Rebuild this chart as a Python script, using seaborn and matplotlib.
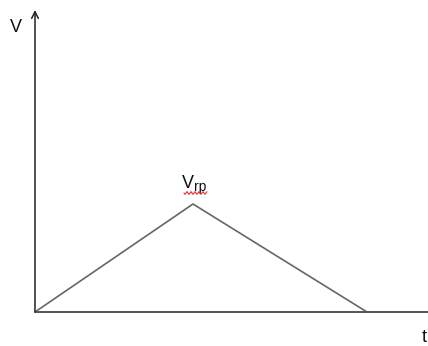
import numpy as np
import pandas as pd
import matplotlib
matplotlib.use("Agg")
import matplotlib.pyplot as plt
import seaborn as sns

# Triangular velocity profile: rises to the peak, then falls back to zero
t_points = [0, 158, 332]
v_points = [0, 108, 0]
peak_label = "V"
peak_sub = "rp"
x_label = "t"
y_label = "V"

sns.set_theme(style="white")
plt.rcParams["font.family"] = ["Liberation Sans", "DejaVu Sans"]

W, H = 428, 346
fig = plt.figure(figsize=(W / 100, H / 100), dpi=100)
ax = fig.add_axes([35 / W, 34 / H, 393 / W, 302 / H])
ax.set_xlim(0, 393)
ax.set_ylim(0, 302)

df = pd.DataFrame({"t": t_points, "v": v_points})
sns.lineplot(data=df, x="t", y="v", ax=ax, color="#666666", linewidth=1.2,
             sort=False, estimator=None)

for s in ax.spines.values():
    s.set_visible(False)
ax.set_xticks([])
ax.set_yticks([])
ax.set_xlabel("")
ax.set_ylabel("")

# horizontal time axis
ax.plot([0, 393], [0, 0], color="#555555", linewidth=1.4, clip_on=False)
# vertical axis with open arrowhead
ax.annotate("", xy=(0, 302), xytext=(0, 0), xycoords="data",
            arrowprops=dict(arrowstyle="->", color="#222222", lw=1.1,
                            shrinkA=0, shrinkB=0, mutation_scale=12),
            annotation_clip=False)

fig.text(16 / W, 1 - 27 / H, y_label, fontsize=13, color="#111111",
         ha="center", va="center")
fig.text(424 / W, 1 - 338 / H, x_label, fontsize=13, color="#111111",
         ha="center", va="center")

# peak label with subscript
peak_t = t_points[int(np.argmax(v_points))]
peak_v = max(v_points)
ax.text(peak_t + 1, peak_v + 21, peak_label, fontsize=13, color="#111111",
        ha="right", va="center")
ax.text(peak_t + 1, peak_v + 17, peak_sub, fontsize=10, color="#111111",
        ha="left", va="center")

# spell-check style wavy underline
xs = np.linspace(184, 207, 60)
ys = 1 - (193 + 1.2 * np.sin((xs - 184) * 2 * np.pi / 4)) / H
fig.add_artist(plt.Line2D(xs / W, ys, color="#e03030", linewidth=0.8))

fig.savefig("out.png", dpi=100)
